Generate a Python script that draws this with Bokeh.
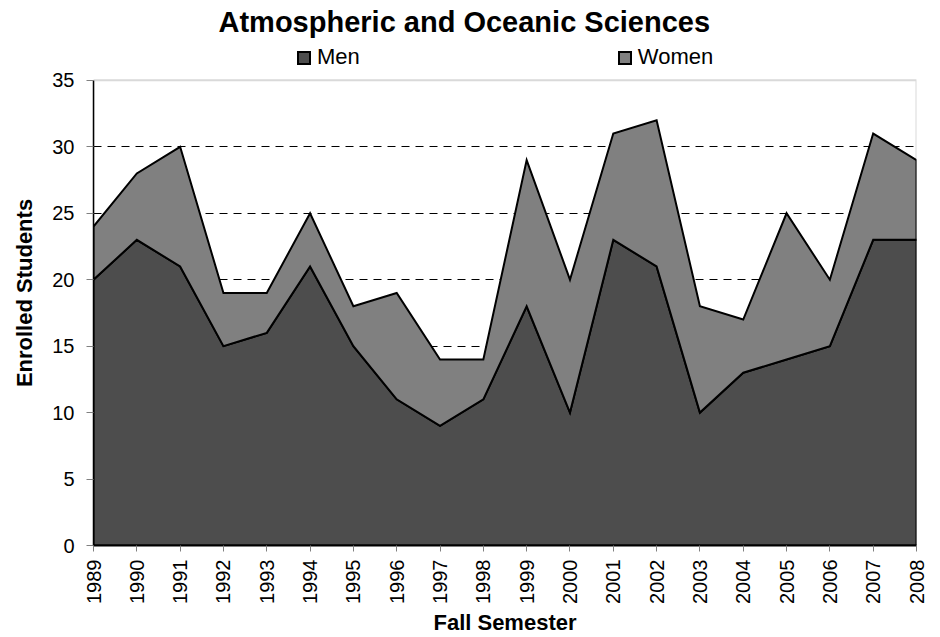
import math
from bokeh.plotting import figure
from bokeh.models import Range1d, FixedTicker, Legend, LegendItem, BoxAnnotation
from bokeh.embed import file_html
from bokeh.resources import INLINE

# ---- data ----
years = [1989, 1990, 1991, 1992, 1993, 1994, 1995, 1996, 1997, 1998,
         1999, 2000, 2001, 2002, 2003, 2004, 2005, 2006, 2007, 2008]
men = [20, 23, 21, 15, 16, 21, 15, 11, 9, 11, 18, 10, 23, 21, 10, 13, 14, 15, 23, 23]
women = [4, 5, 9, 4, 3, 4, 3, 8, 5, 3, 11, 10, 8, 11, 8, 4, 11, 5, 8, 6]
year_labels = [str(y) for y in years]
y_ticks = [0, 5, 10, 15, 20, 25, 30, 35]

title_text = "Atmospheric and Oceanic Sciences"
x_label = "Fall Semester"
y_label = "Enrolled Students"
series_names = ["Men", "Women"]

total = [m + w for m, w in zip(men, women)]

FONT = "Liberation Sans"
MEN_C = "#4d4d4d"
WOMEN_C = "#808080"
Y_TOP = 38  # headroom above the 35 line holds the legend

p = figure(width=940, height=637, output_backend="svg", toolbar_location=None,
           x_range=Range1d(years[0], years[-1]), y_range=Range1d(0, Y_TOP),
           min_border_left=93, min_border_right=24, min_border_top=40,
           min_border_bottom=92,
           background_fill_color="white", border_fill_color="white")
p.outline_line_color = None

# plot-area border (grey) around 0..35
frame_box = BoxAnnotation(left=years[0], right=years[-1], bottom=y_ticks[0],
                          top=y_ticks[-1], fill_alpha=0, line_color="#808080",
                          line_width=2, level="underlay")
p.add_layout(frame_box)

# stacked areas drawn as polygons derived from the data
men_xs = years + [years[-1], years[0]]
men_ys = men + [0, 0]
women_xs = years + years[::-1]
women_ys = total + men[::-1]

r_men = p.patch(men_xs, men_ys, fill_color=MEN_C, line_color="black",
                line_width=2, line_join="miter")
r_women = p.patch(women_xs, women_ys, fill_color=WOMEN_C, line_color="black",
                  line_width=2, line_join="miter")

# title
p.title.text = title_text
p.title.align = "left"
p.title.offset = 125
p.title.text_font = FONT
p.title.text_font_size = "29px"
p.title.text_font_style = "bold"
p.title.text_color = "black"
p.title.standoff = 6

# legend in the headroom at the top of the frame
legend = Legend(items=[LegendItem(label=series_names[0], renderers=[r_men]),
                       LegendItem(label=series_names[1], renderers=[r_women])],
                orientation="horizontal", location=(203, 475),
                label_text_font=FONT, label_text_font_size="22px",
                label_text_color="black",
                glyph_width=15, glyph_height=15, label_standoff=6,
                spacing=257, padding=0, margin=0,
                border_line_color=None, background_fill_alpha=0)
p.add_layout(legend, "center")

# grid
p.xgrid.visible = False
p.ygrid.ticker = FixedTicker(ticks=y_ticks[1:-1])
p.ygrid.grid_line_color = "black"
p.ygrid.grid_line_dash = "8 6"
p.ygrid.grid_line_width = 1

# axes
xa = p.xaxis[0]
xa.ticker = FixedTicker(ticks=years)
xa.major_label_overrides = {y: l for y, l in zip(years, year_labels)}
xa.major_label_orientation = math.pi / 2
xa.major_label_text_font = FONT
xa.major_label_text_font_size = "20px"
xa.major_label_text_color = "black"
xa.major_tick_line_color = "#808080"
xa.major_tick_out = 6
xa.major_tick_in = 0
xa.minor_tick_line_color = None
xa.axis_line_color = "black"
xa.axis_line_width = 2
xa.major_label_standoff = 8
xa.axis_label = x_label
xa.axis_label_text_font = FONT
xa.axis_label_text_font_size = "22px"
xa.axis_label_text_font_style = "bold"
xa.axis_label_text_color = "black"
xa.axis_label_standoff = 3

ya = p.yaxis[0]
ya.ticker = FixedTicker(ticks=y_ticks)
ya.bounds = (y_ticks[0], y_ticks[-1])
ya.major_label_text_font = FONT
ya.major_label_text_font_size = "20px"
ya.major_label_text_color = "black"
ya.major_tick_line_color = "#808080"
ya.major_tick_out = 7
ya.major_tick_in = 0
ya.minor_tick_line_color = None
ya.axis_line_color = "black"
ya.axis_line_width = 1.5
ya.major_label_standoff = 12
ya.axis_label = y_label
ya.axis_label_text_font = FONT
ya.axis_label_text_font_size = "22px"
ya.axis_label_text_font_style = "bold"
ya.axis_label_text_color = "black"
ya.axis_label_standoff = 12

open("out.html", "w").write(file_html(p, INLINE))
